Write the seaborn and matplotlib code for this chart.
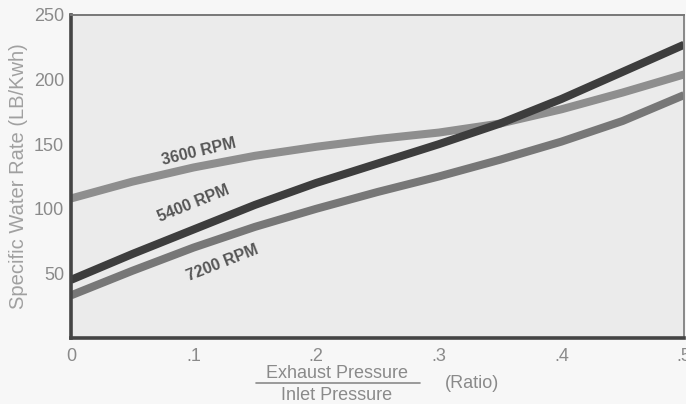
import numpy as np
import pandas as pd
import matplotlib
matplotlib.use("Agg")
import matplotlib.pyplot as plt
from matplotlib.lines import Line2D
import seaborn as sns

# ---- data ----
ratio = [0.0, 0.05, 0.10, 0.15, 0.20, 0.25, 0.30, 0.35, 0.40, 0.45, 0.50]
rpm_3600 = [108, 121, 132, 141, 148, 154, 159, 166, 177, 190, 204]
rpm_5400 = [45, 65, 84, 103, 120, 135, 150, 166, 185, 206, 227]
rpm_7200 = [33, 52, 70, 86, 100, 113, 125, 138, 152, 168, 188]
series_names = ["3600 RPM", "5400 RPM", "7200 RPM"]
x_ticks = [0.0, 0.1, 0.2, 0.3, 0.4, 0.5]
x_tick_labels = ["0", ".1", ".2", ".3", ".4", ".5"]
y_ticks = [50, 100, 150, 200, 250]
y_tick_labels = ["50", "100", "150", "200", "250"]

df = pd.DataFrame({
    "ratio": ratio * 3,
    "rate": rpm_3600 + rpm_5400 + rpm_7200,
    "series": [series_names[0]] * len(ratio) + [series_names[1]] * len(ratio) + [series_names[2]] * len(ratio),
})

sns.set_theme(style="white")
plt.rcParams["font.family"] = ["Liberation Sans Narrow", "Liberation Sans", "DejaVu Sans"]

W, H = 686, 404
fig = plt.figure(figsize=(W / 100, H / 100), dpi=100)
fig.patch.set_facecolor("#f7f7f7")
left, right, top, bottom = 71, 684, 15, 338
ax = fig.add_axes([left / W, 1 - bottom / H, (right - left) / W, (bottom - top) / H])
ax.set_facecolor("#ebebeb")

palette = {"3600 RPM": "#8e8e8e", "5400 RPM": "#3d3d3d", "7200 RPM": "#777777"}
sns.lineplot(data=df, x="ratio", y="rate", hue="series", palette=palette,
             linewidth=5.8, legend=False, ax=ax, solid_capstyle="butt",
             solid_joinstyle="round")

ax.set_xlim(0, 0.5)
ax.set_ylim(0, 250)
ax.set_xticks(x_ticks)
ax.set_xticklabels(x_tick_labels)
ax.set_yticks(y_ticks)
ax.set_yticklabels(y_tick_labels)
ax.set_xlabel("")
ax.set_ylabel("Specific Water Rate (LB/Kwh)", color="#a0a0a0", fontsize=14.5, labelpad=4)

ax.tick_params(axis="both", direction="in", length=9, width=1.6, color="#555555",
               labelcolor="#8a8a8a", labelsize=13)
ax.tick_params(axis="x", pad=7)
ax.tick_params(axis="y", pad=5)

for side in ["left", "bottom"]:
    ax.spines[side].set_color("#444444")
    ax.spines[side].set_linewidth(2.6)
ax.spines["top"].set_color("#777777")
ax.spines["top"].set_linewidth(1.4)
ax.spines["right"].set_color("#888888")
ax.spines["right"].set_linewidth(1.4)

# curve labels
ax.text(0.104, 144, "3600 RPM", rotation=13.5, ha="center", va="center",
        fontsize=11.5, fontweight="bold", color="#555555")
ax.text(0.10, 104, "5400 RPM", rotation=22, ha="center", va="center",
        fontsize=11.5, fontweight="bold", color="#555555")
ax.text(0.124, 58, "7200 RPM", rotation=21.5, ha="center", va="center",
        fontsize=11.5, fontweight="bold", color="#555555")

# x-axis label as a fraction
fig.text(337 / W, 1 - 374 / H, "Exhaust Pressure", ha="center", va="center",
         fontsize=13, color="#8a8a8a")
fig.text(337 / W, 1 - 395 / H, "Inlet Pressure", ha="center", va="center",
         fontsize=13, color="#8a8a8a")
fig.add_artist(Line2D([256 / W, 420 / W], [1 - 383 / H, 1 - 383 / H],
                      transform=fig.transFigure, color="#8a8a8a", linewidth=1.2))
fig.text(472 / W, 1 - 384 / H, "(Ratio)", ha="center", va="center",
         fontsize=13, color="#8a8a8a")

fig.savefig("out.png", dpi=100, facecolor=fig.get_facecolor())
